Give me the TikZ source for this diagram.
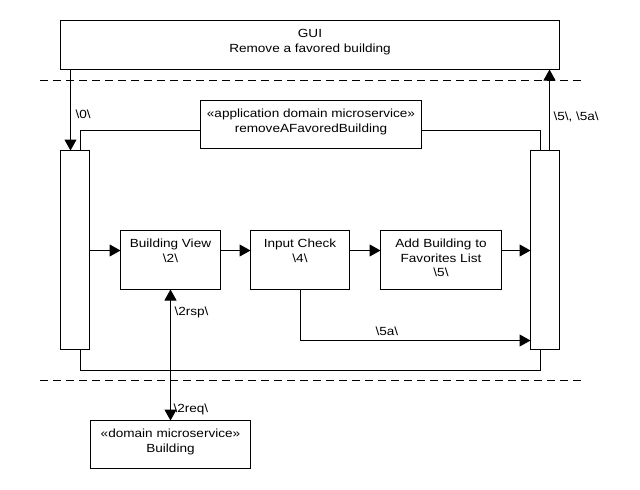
\documentclass[tikz,border=0pt]{standalone}
\usepackage{fontspec}
\setmainfont[FakeStretch=1.15]{Liberation Sans}
\usetikzlibrary{arrows.meta}
\begin{document}
\begin{tikzpicture}[x=1pt,y=-1pt,
  line width=1pt,
  box/.style={draw, fill=white, inner sep=0pt, outer sep=0pt, anchor=north west},
  txt/.style={font=\fontsize{11.8}{14.5}\selectfont, align=center, inner sep=0pt, anchor=north, yshift=-6.7pt},
  lbl/.style={font=\fontsize{11.8}{14}\selectfont, inner sep=0pt, anchor=base west},
  arr/.style={-{Triangle[length=11pt,width=12pt]}},
  arrb/.style={{Triangle[length=11pt,width=12pt]}-{Triangle[length=11pt,width=12pt]}},
  sep/.style={dash pattern=on 8pt off 5pt}]
\useasboundingbox (0,0) rectangle (640,490);
% separators
\draw[sep] (40,80.5) -- (582,80.5);
\draw[sep] (40,380.5) -- (582,380.5);
% frame of the application microservice
\draw (80.5,130.5) rectangle (540.5,370.5);
% boxes
\node[box, minimum width=499pt, minimum height=49pt] (gui) at (60.5,20.5) {};
\node[txt] (guit) at (gui.north) {\strut GUI\\Remove a favored building};
\node[box, minimum width=221pt, minimum height=48pt] (app) at (200.5,100.5) {};
\node[txt] (appt) at (app.north) {\strut «application domain microservice»\\removeAFavoredBuilding};
\node[box, minimum width=29pt, minimum height=199pt] (lbar) at (60.5,150.5) {};
\node[box, minimum width=29pt, minimum height=199pt] (rbar) at (530.5,150.5) {};
\node[box, minimum width=100pt, minimum height=59pt] (bv) at (120.5,230.5) {};
\node[txt] (bvt) at (bv.north) {\strut Building View\\\textbackslash 2\textbackslash};
\node[box, minimum width=99pt, minimum height=59pt] (ic) at (250.5,230.5) {};
\node[txt] (ict) at (ic.north) {\strut Input Check\\\textbackslash 4\textbackslash};
\node[box, minimum width=121pt, minimum height=59pt] (add) at (380.5,230.5) {};
\node[txt] (addt) at (add.north) {\strut Add Building to\\Favorites List\\\textbackslash 5\textbackslash};
\node[box, minimum width=160pt, minimum height=48pt] (bld) at (90.5,420.5) {};
\node[txt] (bldt) at (bld.north) {\strut «domain microservice»\\Building};
% connectors
\draw[arr] ([xshift=10pt]gui.south west) -- ([xshift=10pt]lbar.north west);
\draw[arr] ([xshift=-10pt]rbar.north east) -- ([xshift=-10pt]gui.south east);
\coordinate (r1) at ([yshift=-20pt]bv.north west);
\draw[arr] (lbar.east |- r1) -- (r1);
\draw[arr] (bv.east |- r1) -- (ic.west |- r1);
\draw[arr] (ic.east |- r1) -- (add.west |- r1);
\draw[arr] (add.east |- r1) -- (rbar.west |- r1);
\draw[arr] (ic.south) |- ([yshift=9pt]rbar.south west);
\draw[arrb] (bld.north) -- (bv.south);
% labels
\node[lbl] (l0) at (75,118.5) {\textbackslash 0\textbackslash};
\node[lbl] (l5) at (553,120) {\textbackslash 5\textbackslash, \textbackslash 5a\textbackslash};
\node[lbl] (l2rsp) at (174,315) {\textbackslash 2rsp\textbackslash};
\node[lbl] (l2req) at (173,412) {\textbackslash 2req\textbackslash};
\node[lbl] (l5a) at (375,335) {\textbackslash 5a\textbackslash};
\end{tikzpicture}
\end{document}
